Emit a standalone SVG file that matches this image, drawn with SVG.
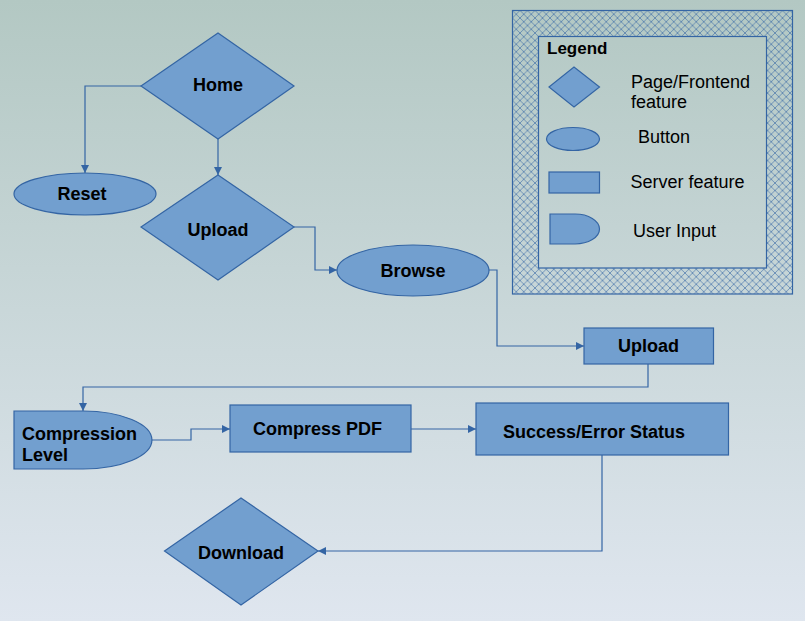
<svg xmlns="http://www.w3.org/2000/svg" width="805" height="621" viewBox="0 0 805 621">
<style>
.shape{fill:#729fcf;stroke:#3465a4;stroke-width:1.2}
.lbl{font-family:"Liberation Sans",Arial,sans-serif;font-weight:bold;font-size:18px;fill:#000;text-anchor:middle}
.lbl-l{font-family:"Liberation Sans",Arial,sans-serif;font-weight:bold;font-size:18px;fill:#000}
.leg{font-family:"Liberation Sans",Arial,sans-serif;font-size:18px;fill:#000}
.conn{fill:none;stroke:#3465a4;stroke-width:1.2}
</style>
<defs>
<linearGradient id="bg" x1="0" y1="0" x2="0" y2="1">
<stop offset="0" stop-color="#b3c8c3"/>
<stop offset="1" stop-color="#dfe6ef"/>
</linearGradient>
<pattern id="hatch" width="7.5" height="7.5" patternUnits="userSpaceOnUse" x="512.5" y="10.5">
<path d="M0,0 L7.5,7.5 M0,7.5 L7.5,0 M-1,6.5 L1,8.5 M6.5,-1 L8.5,1 M-1,1 L1,-1 M6.5,8.5 L8.5,6.5" stroke="#3465a4" stroke-opacity="0.85" stroke-width="0.7" fill="none"/>
</pattern>
<marker id="arr" viewBox="0 0 10 10" refX="10" refY="5" markerWidth="8" markerHeight="8" markerUnits="userSpaceOnUse" orient="auto">
<path d="M0,0 L10,5 L0,10 Z" fill="#3465a4"/>
</marker>
</defs>
<rect x="0" y="0" width="805" height="621" fill="url(#bg)"/>

<g id="legend">
<path d="M512.5,10.5 H792.5 V294 H512.5 Z M538.5,36.5 V268 H766.5 V36.5 Z" fill="url(#hatch)" fill-rule="evenodd"/>
<rect x="512.5" y="10.5" width="280" height="283.5" fill="none" stroke="#3465a4" stroke-width="1.2"/>
<rect x="538.5" y="36.5" width="228" height="231.5" fill="none" stroke="#3465a4" stroke-width="1.2"/>
<text x="547" y="54" class="lbl-l" style="font-size:17px">Legend</text>
<polygon class="shape" points="549,87 574,67 599.5,87 574,107"/>
<text x="631" y="88" class="leg">Page/Frontend</text>
<text x="631" y="108" class="leg">feature</text>
<ellipse class="shape" cx="573" cy="139" rx="26.5" ry="11.5"/>
<text x="638" y="143" class="leg">Button</text>
<rect class="shape" x="549" y="172" width="50.5" height="21"/>
<text x="630.5" y="188" class="leg">Server feature</text>
<path class="shape" d="M550,214 H575 A24.5,15 0 0 1 575,244 H550 Z"/>
<text x="633" y="237" class="leg">User Input</text>
</g>

<g id="connectors">
<path class="conn" d="M141,86 H85 V173" marker-end="url(#arr)"/>
<path class="conn" d="M218,139 V175" marker-end="url(#arr)"/>
<path class="conn" d="M294,227 H315 V270 H337" marker-end="url(#arr)"/>
<path class="conn" d="M489,270 H497 V346 H584" marker-end="url(#arr)"/>
<path class="conn" d="M648,364 V387 H83 V411" marker-end="url(#arr)"/>
<path class="conn" d="M152,440 H191 V429 H230" marker-end="url(#arr)"/>
<path class="conn" d="M411,429 H476" marker-end="url(#arr)"/>
<path class="conn" d="M602,455 V551 H318" marker-end="url(#arr)"/>
</g>

<g id="home">
<polygon class="shape" points="141,86 218,33 294,86 218,139"/>
<text x="218" y="91" class="lbl">Home</text>
</g>
<g id="reset">
<ellipse class="shape" cx="85" cy="194" rx="71" ry="21"/>
<text x="82" y="200" class="lbl">Reset</text>
</g>
<g id="upload-page">
<polygon class="shape" points="141,227 218,175 294,227 218,280"/>
<text x="218" y="236" class="lbl">Upload</text>
</g>
<g id="browse">
<ellipse class="shape" cx="413" cy="270.5" rx="76" ry="25.5"/>
<text x="413" y="277" class="lbl">Browse</text>
</g>
<g id="upload-server">
<rect class="shape" x="584" y="328" width="129.5" height="36"/>
<text x="648.5" y="352" class="lbl">Upload</text>
</g>
<g id="compression-level">
<path class="shape" d="M14,411 H83 A69,29 0 0 1 83,469 H14 Z"/>
<text x="22" y="440" class="lbl-l">Compression</text>
<text x="22" y="461" class="lbl-l">Level</text>
</g>
<g id="compress-pdf">
<rect class="shape" x="230" y="405" width="181" height="47"/>
<text x="317.5" y="435" class="lbl">Compress PDF</text>
</g>
<g id="status">
<rect class="shape" x="476" y="403" width="252.5" height="52"/>
<text x="594" y="438" class="lbl">Success/Error Status</text>
</g>
<g id="download">
<polygon class="shape" points="164.5,551 241,498 318,551 241,605"/>
<text x="241" y="559" class="lbl">Download</text>
</g>
</svg>
